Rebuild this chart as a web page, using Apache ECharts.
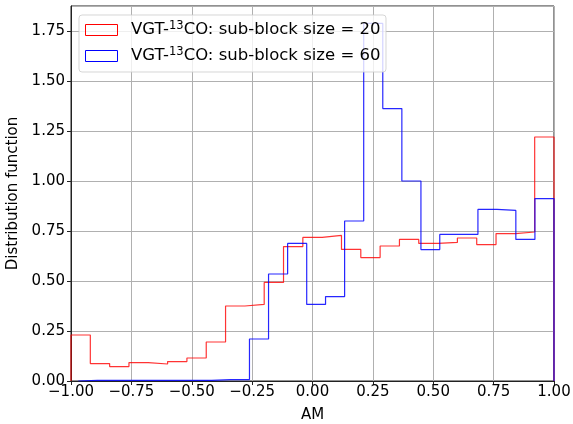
<!DOCTYPE html>
<html><head><meta charset="utf-8">
<script src="https://cdn.jsdelivr.net/npm/echarts@6/dist/echarts.min.js"></script>
<style>html,body{margin:0;padding:0;background:#fff;overflow:hidden}#c{width:573px;height:424px}</style>
</head><body><div id="c"></div>
<script>
const redEdges = [-1.00,-0.92,-0.84,-0.76,-0.68,-0.60,-0.52,-0.44,-0.36,-0.28,-0.20,-0.12,-0.04,0.04,0.12,0.20,0.28,0.36,0.44,0.52,0.60,0.68,0.76,0.84,0.92,1.00];
const redValues = [0.23,0.087,0.072,0.092,0.085,0.097,0.115,0.195,0.375,0.383,0.493,0.672,0.718,0.728,0.658,0.617,0.675,0.708,0.688,0.693,0.715,0.682,0.737,0.745,1.22];
const blueEdges = [-0.970,-0.891,-0.812,-0.734,-0.655,-0.576,-0.497,-0.418,-0.339,-0.261,-0.182,-0.103,-0.024,0.054,0.133,0.212,0.291,0.370,0.449,0.527,0.606,0.685,0.764,0.842,0.921,1.000];
const blueValues = [0.003,0.003,0.003,0.003,0.003,0.003,0.003,0.007,0.007,0.21,0.535,0.688,0.383,0.422,0.80,1.788,1.362,1.00,0.657,0.733,0.733,0.858,0.853,0.708,0.912];
const xTicks = [-1.00,-0.75,-0.50,-0.25,0.00,0.25,0.50,0.75,1.00];
const yTicks = [0.00,0.25,0.50,0.75,1.00,1.25,1.50,1.75];
const seriesNames = ['VGT-13CO: sub-block size = 20','VGT-13CO: sub-block size = 60'];

function stepPoints(edges, vals){
  const pts = [[edges[0], 0]];
  for (let i = 0; i < vals.length; i++){
    pts.push([edges[i], vals[i]]);
    pts.push([edges[i+1], vals[i]]);
  }
  pts.push([edges[edges.length-1], 0]);
  return pts;
}
const fmt = v => v.toFixed(2).replace('-', '\u2212');
const FONT = 'DejaVu Sans';

const chart = echarts.init(document.getElementById('c'), null, {renderer:'canvas', width:573, height:424});
const richStyle = {n:{fontSize:16.5,fontFamily:FONT,fill:'#000',lineHeight:20},
                   s:{fontSize:11.5,fontFamily:FONT,fill:'#000',verticalAlign:'top',lineHeight:20,padding:[0,0,6,0]}};
chart.setOption({
  animation:false,
  backgroundColor:'#fff',
  textStyle:{fontFamily:FONT},
  grid:{left:71,right:19,top:6,bottom:43,containLabel:false,outerBoundsMode:'none',
    show:true,borderColor:'#222',borderWidth:1,backgroundColor:'transparent'},
  xAxis:{type:'value',min:-1,max:1,interval:0.25,
    name:'AM',nameLocation:'middle',nameGap:27,nameTextStyle:{fontSize:15,color:'#000',fontFamily:FONT},
    axisLine:{show:true,onZero:false,lineStyle:{color:'#222',width:1}},
    axisTick:{show:true,length:4,lineStyle:{color:'#222'}},
    axisLabel:{fontSize:15,color:'#000',fontFamily:FONT,margin:4,formatter:v=>fmt(v)},
    splitLine:{show:true,lineStyle:{color:'#b0b0b0',width:1}}},
  yAxis:{type:'value',min:0,max:1.875,interval:0.25,
    name:'Distribution function',nameLocation:'middle',nameGap:42,nameTextStyle:{fontSize:15,color:'#000',fontFamily:FONT},
    axisLine:{show:true,onZero:false,lineStyle:{color:'#222',width:1}},
    axisTick:{show:true,length:4,lineStyle:{color:'#222'}},
    axisLabel:{fontSize:15,color:'#000',fontFamily:FONT,margin:6,showMaxLabel:false,
      formatter:v=>(yTicks.some(t=>Math.abs(t-v)<1e-9)?fmt(v):'')},
    splitLine:{show:true,lineStyle:{color:'#b0b0b0',width:1}}},
  series:[
    {name:seriesNames[0],type:'line',data:stepPoints(redEdges,redValues),showSymbol:false,symbol:'none',
      lineStyle:{color:'#ff0000',width:1.2,opacity:0.8},z:3,clip:true},
    {name:seriesNames[1],type:'line',data:stepPoints(blueEdges,blueValues),showSymbol:false,symbol:'none',
      lineStyle:{color:'#0000ff',width:1.2,opacity:0.85},z:4,clip:true}
  ],
  graphic:[
    {type:'rect',z:100,shape:{x:79,y:15,width:307,height:57,r:3},
      style:{fill:'rgba(255,255,255,0.8)',stroke:'rgba(204,204,204,0.8)',lineWidth:1}},
    {type:'rect',z:101,shape:{x:85.5,y:24.5,width:32,height:11},style:{fill:'none',stroke:'#ff0000',lineWidth:1}},
    {type:'rect',z:101,shape:{x:85.5,y:50.5,width:32,height:11},style:{fill:'none',stroke:'#0000ff',lineWidth:1}},
    {type:'text',z:101,x:131,y:30,style:{text:'{n|VGT-}{s|13}{n|CO: sub-block size = 20}',verticalAlign:'middle',rich:richStyle}},
    {type:'text',z:101,x:131,y:56,style:{text:'{n|VGT-}{s|13}{n|CO: sub-block size = 60}',verticalAlign:'middle',rich:richStyle}}
  ]
});
</script></body></html>
